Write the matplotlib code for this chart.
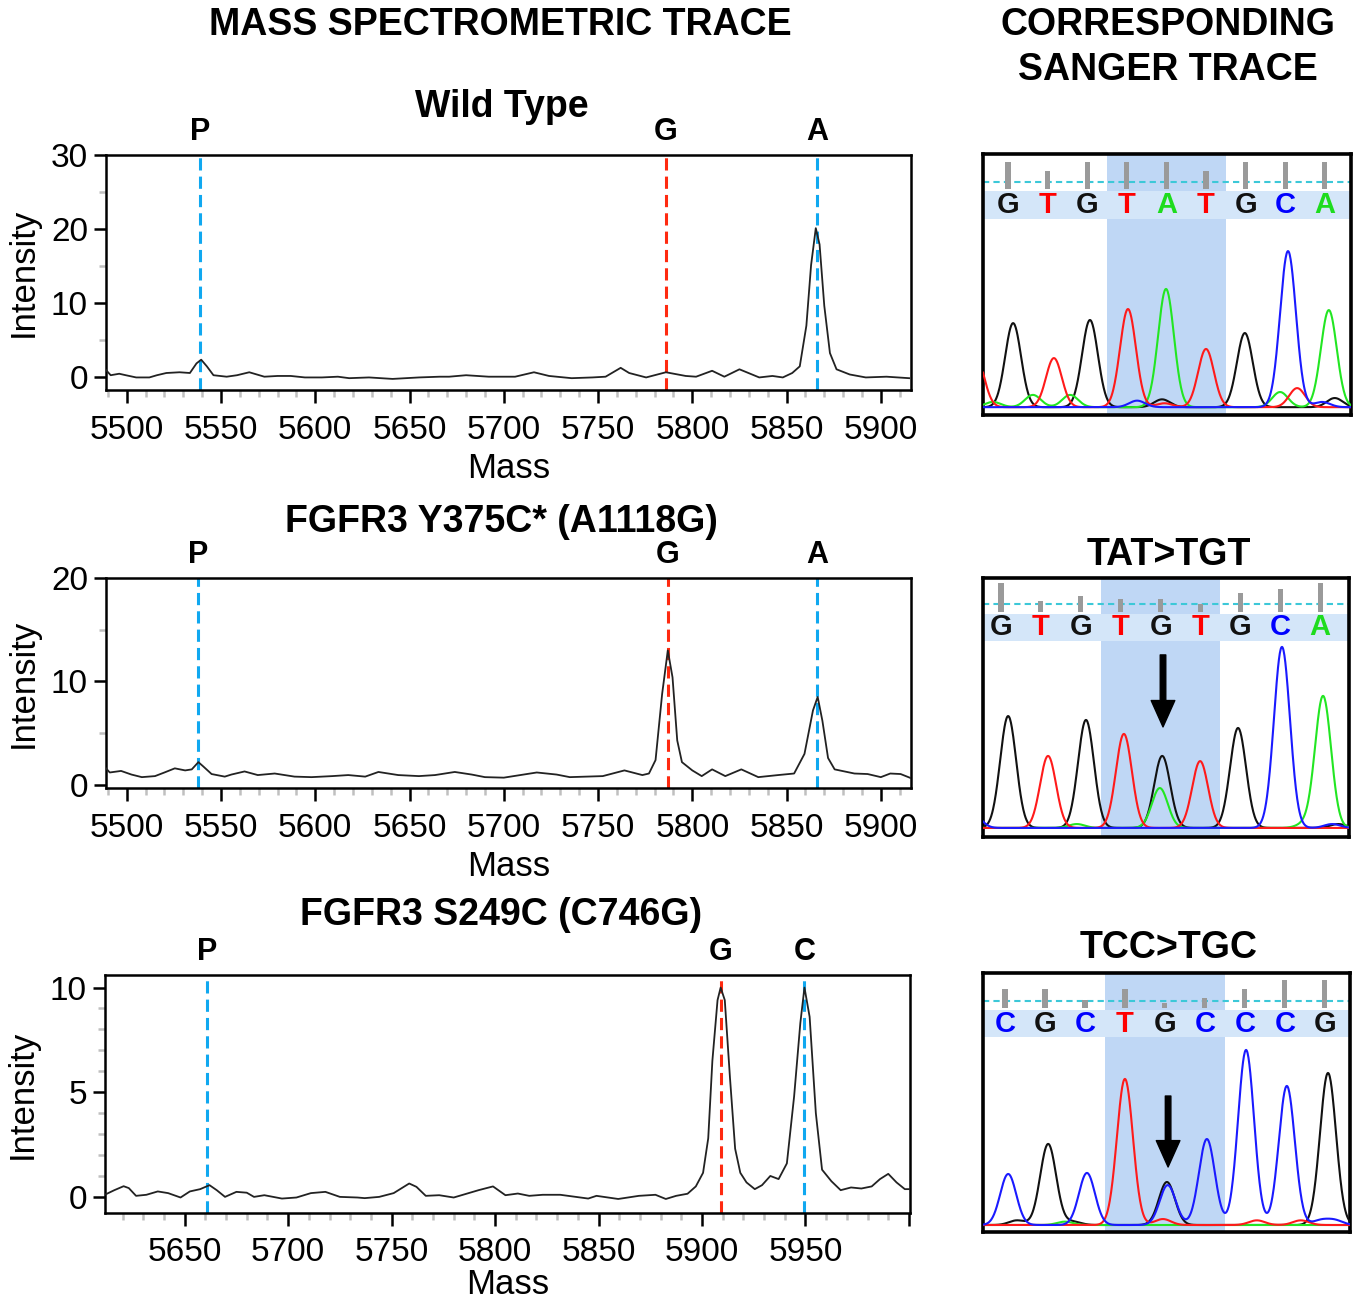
import numpy as np
import matplotlib.pyplot as plt
from matplotlib.ticker import MultipleLocator
from matplotlib.transforms import blended_transform_factory

plt.rcParams['font.family'] = ['Liberation Sans', 'DejaVu Sans']

# ---------------- mass spectrometric traces ----------------
wt_mass = [5489, 5491.5, 5496, 5499.5, 5505, 5512, 5516, 5521, 5528, 5533.5,
           5537, 5539.5, 5542.5, 5546, 5553, 5558.5, 5565, 5573, 5580, 5587,
           5594.5, 5603.5, 5612, 5618, 5628.5, 5641, 5655, 5666, 5671, 5680,
           5692, 5706, 5716, 5724, 5736, 5747, 5754, 5762, 5766.5, 5775.5,
           5786, 5796.5, 5802, 5810.5, 5817, 5825, 5835.5, 5842.5, 5848, 5853,
           5857, 5860.5, 5863, 5865.5, 5867.5, 5870, 5873, 5876.5, 5883.5, 5892,
           5903, 5915]
wt_int = [0.9, 0.2, 0.4, 0.2, -0.1, -0.1, 0.2, 0.5, 0.6, 0.5,
          1.8, 2.3, 1.4, 0.2, 0.0, 0.2, 0.6, 0.0, 0.1, 0.1,
          -0.1, -0.1, 0.0, -0.2, -0.1, -0.3, -0.1, 0.0, 0.0, 0.2,
          0.0, 0.0, 0.6, 0.1, -0.2, -0.1, 0.0, 1.2, 0.5, -0.1,
          0.6, 0.1, 0.0, 0.8, 0.0, 1.0, -0.1, 0.1, -0.1, 0.5,
          1.4, 6.9, 15.1, 20.1, 17.9, 9.6, 3.2, 1.0, 0.3, -0.1,
          0.0, -0.2]
wt_marks = [5539, 5786, 5866]
wt_labels = ['P', 'G', 'A']

y375_mass = [5489, 5491, 5497, 5502.5, 5508, 5515, 5520, 5525.5, 5531, 5534.5,
             5538, 5540.5, 5545, 5552, 5555.5, 5562.5, 5569.5, 5578.5, 5589, 5598,
             5609, 5617.5, 5626.5, 5633.5, 5644, 5655, 5663.5, 5674, 5683, 5690,
             5700, 5717.5, 5728, 5735, 5752.5, 5764, 5773.5, 5777, 5780.5, 5784,
             5787, 5789.5, 5792, 5794.5, 5800, 5805, 5810.5, 5817.5, 5826, 5835,
             5845.5, 5854, 5859.5, 5864, 5866.5, 5869, 5872, 5875.5, 5886, 5893,
             5900, 5905, 5910.5, 5916]
y375_int = [1.6, 1.2, 1.35, 1.0, 0.75, 0.85, 1.2, 1.6, 1.4, 1.5,
            2.2, 1.8, 1.05, 0.8, 1.0, 1.3, 0.95, 1.1, 0.8, 0.75,
            0.85, 0.95, 0.8, 1.25, 0.95, 0.85, 0.95, 1.25, 1.0, 0.75,
            0.7, 1.2, 1.0, 0.75, 0.85, 1.4, 0.95, 1.1, 2.4, 8.8,
            13.0, 10.4, 4.3, 2.2, 1.4, 0.85, 1.5, 0.85, 1.5, 0.75,
            0.95, 1.1, 3.0, 7.2, 8.5, 6.2, 2.6, 1.5, 1.1, 1.05,
            0.75, 1.1, 1.05, 0.65]
y375_marks = [5538, 5787, 5866]
y375_labels = ['P', 'G', 'A']

s249_mass = [5612, 5616, 5620.5, 5623, 5626.5, 5631.5, 5637, 5642, 5648, 5652.5,
             5657.5, 5662, 5665.5, 5669.5, 5675, 5680, 5683.5, 5688.5, 5697, 5704,
             5711, 5718, 5725, 5733.5, 5737, 5744, 5751, 5758.5, 5762, 5766.5,
             5773, 5780, 5785.5, 5792, 5799, 5805, 5811, 5816.5, 5823, 5831.5,
             5845, 5849, 5859.5, 5869.5, 5877.5, 5882.5, 5887.5, 5893, 5897, 5900.5,
             5903, 5905, 5907.5, 5909, 5911, 5913.5, 5916, 5918.5, 5921.5, 5925.5,
             5929, 5933, 5937, 5941, 5944.5, 5947.5, 5949.5, 5952, 5955, 5958,
             5962.5, 5967, 5972, 5977, 5982, 5986, 5990, 5994, 5998, 6000]
s249_int = [0.13, 0.32, 0.51, 0.42, 0.05, 0.1, 0.26, 0.18, -0.03, 0.26,
            0.37, 0.56, 0.32, 0.0, 0.24, 0.2, 0.0, 0.08, -0.08, -0.03,
            0.18, 0.24, 0.0, -0.03, -0.06, 0.0, 0.18, 0.64, 0.48, 0.05,
            0.08, -0.03, 0.13, 0.32, 0.5, 0.08, 0.16, 0.05, 0.1, 0.1,
            -0.08, 0.05, -0.1, 0.05, 0.1, -0.1, 0.05, 0.15, 0.5, 1.15,
            2.8, 6.5, 9.4, 10.0, 9.4, 5.7, 2.3, 1.15, 0.69, 0.37,
            0.56, 1.0, 0.85, 1.6, 4.8, 8.3, 10.0, 8.6, 4.0, 1.3,
            0.75, 0.32, 0.45, 0.4, 0.5, 0.85, 1.1, 0.69, 0.37, 0.37]
s249_marks = [5661, 5909, 5949.5]
s249_labels = ['P', 'G', 'C']

# ---------------- Sanger traces (peak tables) ----------------
wt_bases = list('GTGTATGCA')
wt_qual = [10.2, 6.8, 10.2, 10.2, 10.2, 6.8, 10.2, 10.3, 10.3]
wt_pk_pos = [0.13, 1.16, 2.07, 3.03, 3.99, 5.0, 5.98, 7.07, 8.1,
             -0.8, -0.38, 0.63, 1.57, 3.26, 3.89, 3.95, 6.87, 7.3, 7.93, 8.25]
wt_pk_top = [35.2, 21.8, 36.4, 40.6, 48.3, 25.3, 31.4, 62.8, 40.2,
             22, 5, 7.7, 7.7, 5.5, 6, 4.5, 8.8, 10.3, 5, 6.5]
wt_pk_ch = list('GTGTATGCA') + list('TAAACGTATCG')

y375_bases = list('GTGTGTGCA')
y375_qual = [11.2, 4.1, 6.3, 5.0, 5.0, 3.1, 7.3, 9.0, 11.2]
y375_pk_pos = [0.18, 1.18, 2.13, 3.08, 4.04, 3.98, 4.99, 5.94, 7.04, 8.07,
               -0.7, 1.9, 7.6, 8.3, 8.45]
y375_pk_top = [46.7, 31.3, 45.2, 39.8, 31.3, 18.9, 29.3, 42.1, 73.4, 54.4,
               9, 5, 5, 5, 5]
y375_pk_ch = list('GTGTGATGCA') + list('CAACG')

s249_bases = list('CGCTGCCCG')
s249_qual = [7.3, 7.3, 3.2, 7.3, 1.9, 3.9, 7.3, 10.9, 10.9]
s249_pk_pos = [0.08, 1.08, 2.05, 3.0, 4.05, 4.07, 5.05, 6.03, 7.05, 8.08,
               3.95, 0.3, 1.7, 1.5, 6.3, 7.4, 7.9, 8.25]
s249_pk_top = [22.4, 34, 22.8, 59.1, 19.3, 18.1, 35.9, 70.3, 56.4, 61.4,
               5, 4.5, 4, 4, 4.5, 4.5, 4.5, 4.5]
s249_pk_ch = list('CGCTGCCCCG') + list('TGGATTCC')

# ---------------- styles ----------------
mark_color = {'P': '#10a8f0', 'A': '#10a8f0', 'C': '#10a8f0', 'G': '#ff2a10'}
base_color = {'G': '#111111', 'T': '#ff0000', 'A': '#1edc1e', 'C': '#0000ff'}
trace_color = {'G': '#111111', 'T': '#ff1a1a', 'A': '#22e622', 'C': '#1a1aff'}

fig = plt.figure(figsize=(13.6, 13.02), dpi=100)


def draw_ms(rect, mass, inten, marks, labels, xlim, ylim, xticks, xticklabels,
            yticks, yminor, xpad=9, xlabelpad=4):
    ax = fig.add_axes(rect)
    ax.plot(mass, inten, color='#222222', lw=1.3, zorder=3)
    for m, lab in zip(marks, labels):
        ax.axvline(m, color=mark_color[lab], lw=2.2, dashes=(4, 2), zorder=2)
        ax.annotate(lab, xy=(m, 1.0), xycoords=blended_transform_factory(ax.transData, ax.transAxes),
                    xytext=(0, 6), textcoords='offset points', ha='center', va='bottom',
                    fontsize=22, fontweight='bold')
    ax.set_xlim(*xlim)
    ax.set_ylim(*ylim)
    ax.set_xticks(xticks)
    ax.set_xticklabels(xticklabels)
    ax.xaxis.set_minor_locator(MultipleLocator(10))
    ax.set_yticks(yticks)
    ax.yaxis.set_minor_locator(MultipleLocator(yminor))
    ax.tick_params(which='major', length=9, width=1.8, labelsize=24, pad=4)
    ax.tick_params(axis='x', which='major', pad=xpad)
    ax.tick_params(which='minor', length=5, width=1.8, color='#c0c0c0')
    for sp in ax.spines.values():
        sp.set_linewidth(1.8)
    ax.set_xlabel('Mass', fontsize=25, labelpad=xlabelpad)
    ax.set_ylabel('Intensity', fontsize=25, labelpad=8)
    return ax


def draw_sanger(rect, bases, qual, pk_pos, pk_top, pk_ch, baseline, xlim,
                band, cyan_y, bar_bottom, arrow=None):
    ax = fig.add_axes(rect)
    ax.set_xlim(*xlim)
    ax.set_ylim(0, 100)
    ax.set_xticks([])
    ax.set_yticks([])
    for sp in ax.spines.values():
        sp.set_linewidth(2.6)
    # highlighted codon
    ax.axvspan(2.5, 5.5, color='#bfd7f5', zorder=0, lw=0)
    # base call band
    ax.axhspan(band[0], band[1], color='#d4e6f9', zorder=1, lw=0)
    ax.axhline(cyan_y, color='#3cc8d8', lw=1.5, dashes=(3, 2), zorder=2)
    idx = np.arange(len(bases))
    ax.bar(idx, qual, bottom=bar_bottom, width=0.13, color='#9a9a9a', zorder=3)
    for i, b in enumerate(bases):
        ax.text(i, (band[0] + band[1]) / 2, b, ha='center', va='center',
                fontsize=21, fontweight='bold', color=base_color[b], zorder=4)
    xs = np.linspace(xlim[0], xlim[1], 800)
    for ch in ['G', 'A', 'T', 'C']:
        ys = np.full_like(xs, baseline)
        for p, t, c in zip(pk_pos, pk_top, pk_ch):
            if c == ch:
                ys += (t - baseline) * np.exp(-0.5 * ((xs - p) / 0.2) ** 2)
        ax.plot(xs, ys, color=trace_color[ch], lw=1.5, zorder=5)
    if arrow is not None:
        ax.annotate('', xy=(arrow[0], arrow[2]), xytext=(arrow[0], arrow[1]),
                    arrowprops=dict(facecolor='black', edgecolor='black', width=4,
                                    headwidth=17, headlength=19, shrink=0), zorder=6)
    return ax


W, H = 1360.0, 1302.0


def rect(l, t, r, b):
    return [l / W, 1 - b / H, (r - l) / W, (b - t) / H]


ticks_a = list(range(5500, 5901, 50))
draw_ms(rect(106, 155, 911, 390), wt_mass, wt_int, wt_marks, wt_labels,
        (5489, 5916), (-1.8, 30), ticks_a, [str(t) for t in ticks_a], [0, 10, 20, 30], 5)
draw_ms(rect(106, 578, 911, 788), y375_mass, y375_int, y375_marks, y375_labels,
        (5489, 5916), (-0.3, 20), ticks_a, [str(t) for t in ticks_a], [0, 10, 20], 5)
ticks_b = list(range(5650, 6001, 50))
draw_ms(rect(105, 975, 910, 1213), s249_mass, s249_int, s249_marks, s249_labels,
        (5611.5, 6000.5), (-0.77, 10.6), ticks_b,
        [str(t) if t < 6000 else '' for t in ticks_b], [0, 5, 10], 1,
        xpad=8, xlabelpad=0)

draw_sanger(rect(983, 154, 1351, 415), wt_bases, wt_qual, wt_pk_pos, wt_pk_top, wt_pk_ch,
            3.0, (-0.63, 8.66), (75.1, 85.8), 89.3, 86.6)
draw_sanger(rect(983, 578, 1349, 837), y375_bases, y375_qual, y375_pk_pos, y375_pk_top, y375_pk_ch,
            3.5, (-0.45, 8.72), (75.7, 86.1), 90.0, 86.9, arrow=(4.06, 70.3, 42.5))
draw_sanger(rect(983, 973, 1350, 1232), s249_bases, s249_qual, s249_pk_pos, s249_pk_top, s249_pk_ch,
            2.7, (-0.55, 8.63), (75.3, 85.7), 89.2, 86.5, arrow=(4.08, 52.5, 25.1))

# headings
def ftext(x, y, s, size=27):
    fig.text(x / W, 1 - y / H, s, ha='center', va='center', fontsize=size, fontweight='bold')


ftext(500, 25, 'MASS SPECTROMETRIC TRACE')
ftext(1168, 25, 'CORRESPONDING')
ftext(1168, 70, 'SANGER TRACE')
ftext(502, 107, 'Wild Type')
ftext(501, 522, 'FGFR3 Y375C* (A1118G)')
ftext(501, 915, 'FGFR3 S249C (C746G)')
ftext(1169, 555, 'TAT>TGT')
ftext(1169, 948, 'TCC>TGC')

fig.savefig('out.png', dpi=100)
